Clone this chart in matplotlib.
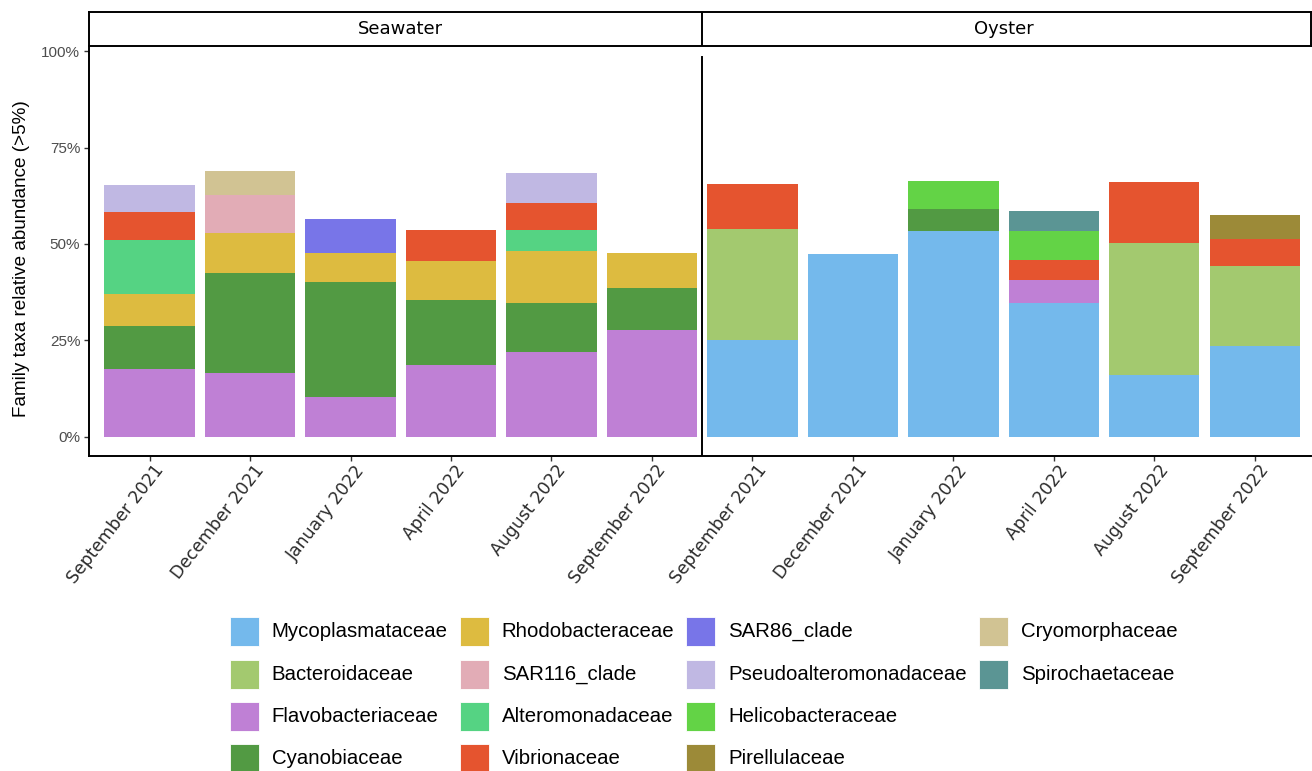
import matplotlib
matplotlib.use("Agg")
import matplotlib.pyplot as plt
import numpy as np
from matplotlib.patches import Rectangle
from matplotlib.transforms import ScaledTranslation, blended_transform_factory

# samples: 6 seawater then 6 oyster
months = ["September 2021", "December 2021", "January 2022",
          "April 2022", "August 2022", "September 2022"]
sample_labels = months + months
facets = ["Seawater", "Oyster"]

families = ["Mycoplasmataceae", "Bacteroidaceae", "Flavobacteriaceae", "Cyanobiaceae",
            "Rhodobacteraceae", "SAR116_clade", "Alteromonadaceae", "Vibrionaceae",
            "SAR86_clade", "Pseudoalteromonadaceae", "Helicobacteraceae", "Pirellulaceae",
            "Cryomorphaceae", "Spirochaetaceae"]
colors = ["#74B9EC", "#A3C96F", "#BF80D5", "#529A43",
          "#DDBB40", "#E2ACB6", "#55D383", "#E5542F",
          "#7875E8", "#C0B8E3", "#63D346", "#9C8A38",
          "#D1C393", "#5B9594"]

# relative abundance (%) per family, seawater x6 then oyster x6
mycoplasmataceae = [0, 0, 0, 0, 0, 0, 25.1, 47.4, 53.5, 34.8, 16.1, 23.4]
bacteroidaceae = [0, 0, 0, 0, 0, 0, 28.8, 0, 0, 0, 34.1, 20.9]
flavobacteriaceae = [17.5, 16.5, 10.3, 18.7, 22.0, 27.6, 0, 0, 0, 5.8, 0, 0]
cyanobiaceae = [11.3, 25.9, 29.8, 16.7, 12.7, 11.0, 0, 0, 5.5, 0, 0, 0]
rhodobacteraceae = [8.3, 10.5, 7.6, 10.2, 13.5, 9.1, 0, 0, 0, 0, 0, 0]
sar116_clade = [0, 9.8, 0, 0, 0, 0, 0, 0, 0, 0, 0, 0]
alteromonadaceae = [14.0, 0, 0, 0, 5.5, 0, 0, 0, 0, 0, 0, 0]
vibrionaceae = [7.1, 0, 0, 8.1, 6.9, 0, 11.7, 0, 0, 5.3, 16.0, 6.9]
sar86_clade = [0, 0, 8.7, 0, 0, 0, 0, 0, 0, 0, 0, 0]
pseudoalteromonadaceae = [7.0, 0, 0, 0, 7.9, 0, 0, 0, 0, 0, 0, 0]
helicobacteraceae = [0, 0, 0, 0, 0, 0, 0, 0, 7.4, 7.6, 0, 0]
pirellulaceae = [0, 0, 0, 0, 0, 0, 0, 0, 0, 0, 0, 6.3]
cryomorphaceae = [0, 6.3, 0, 0, 0, 0, 0, 0, 0, 0, 0, 0]
spirochaetaceae = [0, 0, 0, 0, 0, 0, 0, 0, 0, 5.1, 0, 0]

values = [mycoplasmataceae, bacteroidaceae, flavobacteriaceae, cyanobiaceae,
          rhodobacteraceae, sar116_clade, alteromonadaceae, vibrionaceae,
          sar86_clade, pseudoalteromonadaceae, helicobacteraceae, pirellulaceae,
          cryomorphaceae, spirochaetaceae]

W, H = 1312, 771
fig = plt.figure(figsize=(W / 100, H / 100), dpi=100)

# panel: x 89.3 -> 1311, y 45.7 -> 456.3 (pixels from top)
ax = fig.add_axes([89.3 / W, 1 - 456.3 / H, (1311 - 89.3) / W, (456.3 - 45.7) / H])

x = np.arange(len(sample_labels))
bottom = np.zeros(len(x))
for fam, col, vals in zip(families, colors, values):
    v = np.array(vals, dtype=float)
    ax.bar(x, v, width=0.9, bottom=bottom, color=col, linewidth=0)
    bottom += v

ax.set_xlim(-0.6, 11.56)
ax.set_ylim(-5.14, 101.5)

for s in ["top", "right"]:
    ax.spines[s].set_visible(False)
for s in ["left", "bottom"]:
    ax.spines[s].set_linewidth(1.4)
    ax.spines[s].set_color("black")

# divider between the two facets
ax.axvline(5.5, ymin=0, ymax=0.972, color="black", lw=1.4)

ax.set_yticks([0, 25, 50, 75, 100])
ax.set_yticklabels(["0%", "25%", "50%", "75%", "100%"],
                   fontfamily="Liberation Sans", fontsize=11, color="#4D4D4D")
ax.tick_params(axis="y", length=3.5, width=1, color="#333333", pad=3)
ax.set_xticks(x)
ax.set_xticklabels([""] * len(x))
ax.tick_params(axis="x", length=3.5, width=1, color="#333333")

trans = blended_transform_factory(ax.transData, ax.transAxes) + \
    ScaledTranslation(11 / 100, -11 / 100, fig.dpi_scale_trans)
for xi, lab in zip(x, sample_labels):
    ax.text(xi, 0, lab, transform=trans, rotation=52, rotation_mode="anchor",
            ha="right", va="center", fontsize=12.4, color="#2B2B2B",
            fontfamily="DejaVu Sans")

fig.text(22 / W, 1 - 259 / H, "Family taxa relative abundance (>5%)", rotation=90,
         ha="center", va="center", fontsize=13.6, fontfamily="Liberation Sans",
         color="black")

# facet strip
sax = fig.add_axes([89.3 / W, 1 - 45.7 / H, (1311 - 89.3) / W, (45.7 - 12.3) / H])
sax.set_xlim(ax.get_xlim())
sax.set_ylim(0, 1)
sax.set_xticks([])
sax.set_yticks([])
for s in sax.spines.values():
    s.set_linewidth(1.4)
    s.set_color("black")
sax.axvline(5.5, color="black", lw=1.4)
sax.text(2.5, 0.5, facets[0], ha="center", va="center", fontsize=13,
         fontfamily="DejaVu Sans")
sax.text(8.5, 0.5, facets[1], ha="center", va="center", fontsize=13,
         fontfamily="DejaVu Sans")

# legend, 4 rows filled column by column
col_x = [229.8, 459.6, 686, 979]
row_y = [631.7, 674.0, 716.2, 758.4]
for i, (fam, col) in enumerate(zip(families, colors)):
    cx = col_x[i // 4]
    cy = row_y[i % 4]
    fig.add_artist(Rectangle((cx / W, 1 - (cy + 14.5) / H), 29 / W, 29 / H,
                             transform=fig.transFigure, facecolor=col,
                             edgecolor="white", lw=0.6))
    fig.text((cx + 42) / W, 1 - cy / H, fam, ha="left", va="center",
             fontsize=14.7, fontfamily="Liberation Sans", color="black")

fig.savefig("out.png", dpi=100)
